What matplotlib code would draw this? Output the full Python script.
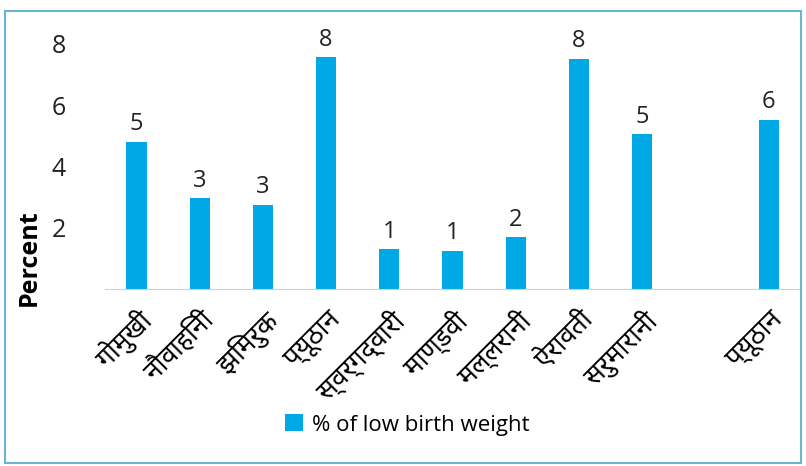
"""
Low birth weight by district, bar chart
"""

import matplotlib.pyplot as plt
from matplotlib.patches import Rectangle

districts = ['गोमुखी', 'नौवाहिनी', 'झिमरुक', 'प्यूठान', 'स्वर्गद्वारी', 'माण्डवी',
             'मल्लरानी', 'ऐरावती', 'सरुमारानी', '', 'प्यूठान']
low_bw = [4.81, 2.96, 2.75, 7.57, 1.30, 1.24, 1.69, 7.52, 5.05, None, 5.52]

bar_color = '#00a9e6'
fam = ['Noto Sans Devanagari', 'Lohit Devanagari', 'Noto Sans', 'DejaVu Sans']
plt.rcParams['font.family'] = ['Open Sans', 'Noto Sans Devanagari', 'Noto Sans', 'DejaVu Sans']

fig = plt.figure(figsize=(8.06, 4.66), dpi=100)
ax = fig.add_axes([0.130, 0.380, 0.863, 0.552])

xs = [i for i, v in enumerate(low_bw) if v is not None]
vals = [v for v in low_bw if v is not None]
bars = ax.bar(xs, vals, width=0.32, color=bar_color, label='% of low birth weight')
ax.bar_label(bars, fmt='%.0f', padding=4, fontsize=17, color='#222222')

ax.set_xlim(-0.5, len(districts) - 0.5)
ax.set_ylim(0, 8.4)
ax.set_yticks([2, 4, 6, 8])
ax.tick_params(axis='y', length=0, pad=28, labelsize=18, labelcolor='#222222')
ax.set_xticks(range(len(districts)))
ax.set_xticklabels(districts, rotation=45, ha='right', rotation_mode='anchor',
                   fontsize=19, family=fam)
ax.tick_params(axis='x', length=0, pad=12)

for s in ['top', 'right', 'left']:
    ax.spines[s].set_visible(False)
ax.spines['bottom'].set_color('#d0d0d0')

ax.set_ylabel('Percent', fontsize=18, fontweight='bold')
ax.yaxis.set_label_coords(-0.09, 0.12)

fig.legend(loc='center', bbox_to_anchor=(0.505, 0.088), frameon=False,
           fontsize=16, handlelength=0.8, handleheight=0.8, handletextpad=0.4)

fig.patches.append(Rectangle((0.006, 0.006), 0.988, 0.97, transform=fig.transFigure,
                             fill=False, edgecolor='#6ab4d6', linewidth=1.5))

plt.savefig('out.png', dpi=100)
